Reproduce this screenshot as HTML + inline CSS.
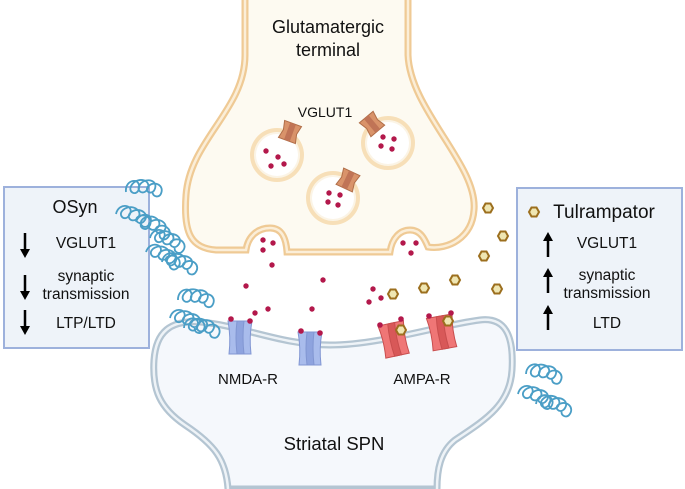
<!DOCTYPE html>
<html><head><meta charset="utf-8"><style>
html,body{margin:0;padding:0;background:#fff;}
svg{display:block;font-family:"Liberation Sans",sans-serif;}
</style></head><body>
<svg width="685" height="489" viewBox="0 0 685 489" xmlns="http://www.w3.org/2000/svg">
<defs>
<g id="hex"><polygon points="-5,0 -2.5,-4.5 2.5,-4.5 5,0 2.5,4.5 -2.5,4.5" fill="#efe6b2" stroke="#9c6f1e" stroke-width="2"/></g>
<path id="sq" fill="none" stroke="#4a9ec6" stroke-width="1.3" d="M0,0 c-2,-9 10,-12 9,-3 c-1,6 -9,3 -5,-3 c4,-6 14,-4 11,3 c-3,5 -9,1 -5,-4 c4,-5 13,-3 10,4 c-2,4 -8,1 -4,-3 c4,-4 11,-1 9,5 c-1,3 -5,3 -6,0"/>
<g id="ves"><circle r="27" fill="#f7dfb8"/><circle r="23" fill="#fbf4e6"/><circle r="21" fill="#fff"/></g>
<g id="vg"><path d="M-9,-9 L9,-9 L7,0 L9,9 L-9,9 L-7,0 Z" fill="#d9936a" stroke="#b06e48" stroke-width="1"/><rect x="-3" y="-9" width="6" height="18" fill="#c07456"/></g>
<g id="nm"><path d="M-12,-16 L12,-16 Q9,0 11,17 L-11,17 Q-9,0 -12,-16Z" fill="#a9bcec" stroke="#8196d2" stroke-width="1"/><path d="M-3,-16 Q-5,0 -3,17 L4,17 Q2,0 4,-16Z" fill="#8ea3de" stroke="#8196d2" stroke-width="1"/></g>
<g id="am"><path d="M-13,-16 L13,-16 Q10,0 12,17 L-12,17 Q-10,0 -13,-16Z" fill="#ef7676" stroke="#c84e4e" stroke-width="1"/><path d="M-3,-16 Q-5,0 -3,17 L4,17 Q2,0 4,-16Z" fill="#d85858" stroke="#c84e4e" stroke-width="1"/></g>
</defs>

<path d="M228,489 C226,460 215,445 185,425 C160,408 152,390 154,360 C156,332 170,320 200,322 C240,325 280,345 330,345 C380,345 440,325 480,320 C505,317 514,335 512,370 C510,405 485,420 455,440 C440,452 437,470 437,489 Z" fill="#f5f8fc" stroke="#b4c5d2" stroke-width="7"/>
<path d="M228,489 C226,460 215,445 185,425 C160,408 152,390 154,360 C156,332 170,320 200,322 C240,325 280,345 330,345 C380,345 440,325 480,320 C505,317 514,335 512,370 C510,405 485,420 455,440 C440,452 437,470 437,489" fill="none" stroke="#eef3f7" stroke-width="2.5"/>

<path d="M245,-5 L245,55 C245,110 190,140 186,195 C183,235 192,248 216,250 L246,250 C248,236 258,228 270,228 C282,228 286,238 287,252 L390,252 C392,238 400,230 410,230 C421,230 425,240 428,247 C448,250 472,238 474,210 C478,165 410,110 408,55 L408,-5 Z" fill="#fdfaf1" stroke="#efca95" stroke-width="7"/>
<path d="M245,-5 L245,55 C245,110 190,140 186,195 C183,235 192,248 216,250 L246,250 C248,236 258,228 270,228 C282,228 286,238 287,252 L390,252 C392,238 400,230 410,230 C421,230 425,240 428,247 C448,250 472,238 474,210 C478,165 410,110 408,55 L408,-5" fill="none" stroke="#fbeed8" stroke-width="2.5"/>

<text x="328" y="33" font-size="18" text-anchor="middle" fill="#111">Glutamatergic</text>
<text x="328" y="56" font-size="18" text-anchor="middle" fill="#111">terminal</text>
<text x="325" y="117" font-size="14" text-anchor="middle" fill="#111">VGLUT1</text>

<use href="#ves" x="277" y="155"/><use href="#ves" x="388" y="143"/><use href="#ves" x="333" y="198"/>
<use href="#vg" transform="translate(290,132) rotate(20)"/>
<use href="#vg" transform="translate(372,124) rotate(-40)"/>
<use href="#vg" transform="translate(348,180) rotate(25)"/>

<g fill="#b3184b">
<circle cx="266" cy="151" r="2.7"/><circle cx="278" cy="157" r="2.7"/><circle cx="271" cy="166" r="2.7"/><circle cx="284" cy="164" r="2.7"/>
<circle cx="383" cy="137" r="2.7"/><circle cx="394" cy="139" r="2.7"/><circle cx="381" cy="146" r="2.7"/><circle cx="392" cy="149" r="2.7"/>
<circle cx="329" cy="193" r="2.7"/><circle cx="340" cy="195" r="2.7"/><circle cx="328" cy="202" r="2.7"/><circle cx="338" cy="205" r="2.7"/>
<circle cx="263" cy="240" r="2.7"/><circle cx="273" cy="243" r="2.7"/><circle cx="263" cy="250" r="2.7"/><circle cx="272" cy="265" r="2.7"/>
<circle cx="403" cy="243" r="2.7"/><circle cx="416" cy="243" r="2.7"/><circle cx="411" cy="253" r="2.7"/>
<circle cx="246" cy="286" r="2.7"/><circle cx="323" cy="280" r="2.7"/><circle cx="255" cy="313" r="2.7"/><circle cx="268" cy="309" r="2.7"/><circle cx="312" cy="309" r="2.7"/>
<circle cx="373" cy="289" r="2.7"/><circle cx="369" cy="302" r="2.7"/><circle cx="381" cy="298" r="2.7"/>
</g>

<use href="#nm" x="240" y="337"/><use href="#nm" x="310" y="348"/>
<use href="#am" transform="translate(394,339) rotate(-12)"/><use href="#am" transform="translate(442,332) rotate(-10)"/>
<g fill="#b3184b">
<circle cx="231" cy="319" r="2.8"/><circle cx="250" cy="321" r="2.8"/><circle cx="301" cy="331" r="2.8"/><circle cx="320" cy="333" r="2.8"/>
<circle cx="380" cy="325" r="2.8"/><circle cx="401" cy="319" r="2.8"/><circle cx="429" cy="316" r="2.8"/><circle cx="451" cy="313" r="2.8"/>
</g>
<use href="#hex" x="488" y="208"/><use href="#hex" x="503" y="236"/><use href="#hex" x="484" y="256"/><use href="#hex" x="455" y="280"/>
<use href="#hex" x="424" y="288"/><use href="#hex" x="393" y="294"/><use href="#hex" x="497" y="289"/><use href="#hex" x="401" y="330"/><use href="#hex" x="448" y="321"/>

<text x="248" y="384" font-size="15" text-anchor="middle" fill="#111">NMDA-R</text>
<text x="422" y="384" font-size="15" text-anchor="middle" fill="#111">AMPA-R</text>
<text x="334" y="450" font-size="18.5" text-anchor="middle" fill="#111">Striatal SPN</text>

<rect x="4" y="187" width="145" height="161" fill="#eef3f9" stroke="#9db1dc" stroke-width="2"/>
<text x="75" y="213" font-size="18" text-anchor="middle" fill="#111">OSyn</text>
<g stroke="#000" stroke-width="2.5" fill="#000">
<line x1="25" y1="233" x2="25" y2="252"/><polygon points="20,249 30,249 25,258" stroke="none"/>
<line x1="25" y1="275" x2="25" y2="294"/><polygon points="20,291 30,291 25,300" stroke="none"/>
<line x1="25" y1="310" x2="25" y2="329"/><polygon points="20,326 30,326 25,335" stroke="none"/>
</g>
<text x="86" y="248" font-size="15.5" text-anchor="middle" fill="#111">VGLUT1</text>
<text x="86" y="281" font-size="15.5" text-anchor="middle" fill="#111">synaptic</text>
<text x="86" y="299" font-size="15.5" text-anchor="middle" fill="#111">transmission</text>
<text x="86" y="328" font-size="15.5" text-anchor="middle" fill="#111">LTP/LTD</text>

<rect x="517" y="188" width="165" height="162" fill="#eef3f9" stroke="#9db1dc" stroke-width="2"/>
<use href="#hex" x="534" y="212"/>
<text x="604" y="218" font-size="19" text-anchor="middle" fill="#111">Tulrampator</text>
<g stroke="#000" stroke-width="2.5" fill="#000">
<line x1="548" y1="238" x2="548" y2="257"/><polygon points="543,241 553,241 548,232" stroke="none"/>
<line x1="548" y1="274" x2="548" y2="293"/><polygon points="543,277 553,277 548,268" stroke="none"/>
<line x1="548" y1="311" x2="548" y2="330"/><polygon points="543,314 553,314 548,305" stroke="none"/>
</g>
<text x="607" y="248" font-size="15.5" text-anchor="middle" fill="#111">VGLUT1</text>
<text x="607" y="280" font-size="15.5" text-anchor="middle" fill="#111">synaptic</text>
<text x="607" y="298" font-size="15.5" text-anchor="middle" fill="#111">transmission</text>
<text x="607" y="328" font-size="15.5" text-anchor="middle" fill="#111">LTD</text>

<use href="#sq" transform="translate(126,192) rotate(5) scale(1.4)"/>
<use href="#sq" transform="translate(116,214) rotate(25) scale(1.4)"/>
<use href="#sq" transform="translate(136,222) rotate(30) scale(1.4)"/>
<use href="#sq" transform="translate(150,238) rotate(25) scale(1.4)"/>
<use href="#sq" transform="translate(146,252) rotate(30) scale(1.4)"/>
<use href="#sq" transform="translate(162,262) rotate(20) scale(1.4)"/>
<use href="#sq" transform="translate(178,300) rotate(10) scale(1.4)"/>
<use href="#sq" transform="translate(170,318) rotate(25) scale(1.4)"/>
<use href="#sq" transform="translate(184,328) rotate(15) scale(1.4)"/>
<use href="#sq" transform="translate(526,374) rotate(15) scale(1.4)"/>
<use href="#sq" transform="translate(518,394) rotate(25) scale(1.4)"/>
<use href="#sq" transform="translate(536,404) rotate(20) scale(1.4)"/>
</svg>
</body></html>
